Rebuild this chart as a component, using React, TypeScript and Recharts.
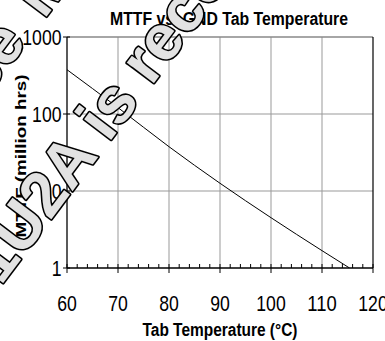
import React from "react";
import { LineChart, Line, XAxis, YAxis, CartesianGrid, ReferenceLine } from "recharts";

// Data
const temps = [60, 70, 80, 90, 100, 110, 115.4];
const mttfValues = [376, 121, 37.6, 12.6, 4.5, 1.68, 1.0];
const xMajorTicks = [60, 70, 80, 90, 100, 110, 120];
const xMinorTicks = [60, 62, 64, 66, 68, 70, 72, 74, 76, 78, 80, 82, 84, 86, 88, 90, 92, 94, 96, 98, 100, 102, 104, 106, 108, 110, 112, 114, 116, 118, 120];
const yTicks = [1, 10, 100, 1000];
const xGridValues = [70, 80, 90, 100, 110];
const yGridValues = [10, 100];

const title = "MTTF vs. GND Tab Temperature";
const xTitle = "Tab Temperature (°C)";
const yTitle = "MTTF (million hrs)";
const watermarkLine1 = "Please use";
const watermarkLine1b = "MBR";
const watermarkLine2a = "MBRS1U";
const watermarkLine2b = "2A is recommended";

const data = temps.map((t, i) => ({ temp: t, mttf: mttfValues[i] }));

const FONT = "'Liberation Sans', Arial, Helvetica, sans-serif";
const DIGIT_W = 9.8;

const XTick = (props: any) => {
  const { x, y, payload } = props;
  const v = payload.value;
  const major = xMajorTicks.includes(v);
  const label = String(v);
  return (
    <g>
      <line x1={x} x2={x} y1={y - 4} y2={major ? y + 5 : y} stroke="#000" strokeWidth={1} />
      {major && (
        <text
          x={x}
          y={y + 43}
          textAnchor="middle"
          fontFamily={FONT}
          fontSize={22}
          fill="#000"
          textLength={label.length * DIGIT_W}
          lengthAdjust="spacingAndGlyphs"
        >
          {label}
        </text>
      )}
    </g>
  );
};

const YTick = (props: any) => {
  const { x, y, payload } = props;
  const label = String(payload.value);
  return (
    <g>
      <line x1={x - 4} x2={x + 3} y1={y} y2={y} stroke="#000" strokeWidth={1} />
      <text
        x={x - 5.5}
        y={y + 8}
        textAnchor="end"
        fontFamily={FONT}
        fontSize={22}
        fill="#000"
        textLength={label.length * DIGIT_W}
        lengthAdjust="spacingAndGlyphs"
      >
        {label}
      </text>
    </g>
  );
};

const WM_FONT_SIZE = 64;
const WM_FILL = "#e2e2e2";

const WMText = ({ x, y, text, anchor }: { x: number; y: number; text: string; anchor: "start" | "end" }) => (
  <g transform={`rotate(-53 ${x} ${y})`}>
    <text
      x={x}
      y={y}
      textAnchor={anchor}
      fontFamily={FONT}
      fontWeight="bold"
      fontSize={WM_FONT_SIZE}
      fill="none"
      stroke="#000"
      strokeWidth={3.2}
      strokeLinejoin="round"
    >
      {text}
    </text>
    <text
      x={x}
      y={y}
      textAnchor={anchor}
      fontFamily={FONT}
      fontWeight="bold"
      fontSize={WM_FONT_SIZE}
      fill={WM_FILL}
      stroke="none"
    >
      {text}
    </text>
  </g>
);

export default function App() {
  return (
    <div
      style={{
        position: "absolute",
        left: 0,
        top: 0,
        width: 385,
        height: 341,
        background: "#fff",
        overflow: "hidden",
      }}
    >
      <LineChart
        width={385}
        height={341}
        data={data}
        margin={{ top: 37, right: 12, left: 7, bottom: 33 }}
      >
        <CartesianGrid
          stroke="#999"
          strokeWidth={1}
          verticalValues={xGridValues}
          horizontalValues={yGridValues}
        />
        <ReferenceLine y={1000} stroke="#888" strokeWidth={1.5} />
        <ReferenceLine x={120} stroke="#000" strokeWidth={1.2} />
        <XAxis
          dataKey="temp"
          type="number"
          domain={[60, 120]}
          ticks={xMinorTicks}
          interval={0}
          tick={<XTick />}
          tickLine={false}
          tickSize={0}
          tickMargin={0}
          height={40}
          axisLine={{ stroke: "#000", strokeWidth: 1.5 }}
          allowDataOverflow
        />
        <YAxis
          type="number"
          scale="log"
          domain={[1, 1000]}
          ticks={yTicks}
          interval={0}
          tick={<YTick />}
          tickLine={false}
          tickSize={0}
          tickMargin={0}
          width={60}
          axisLine={{ stroke: "#000", strokeWidth: 1.3 }}
          allowDataOverflow
        />
        <Line
          type="monotone"
          dataKey="mttf"
          stroke="#000"
          strokeWidth={1}
          dot={false}
          isAnimationActive={false}
        />
      </LineChart>
      <svg
        width={385}
        height={341}
        style={{ position: "absolute", left: 0, top: 0, pointerEvents: "none" }}
      >
        <text
          x={229}
          y={25}
          textAnchor="middle"
          fontFamily={FONT}
          fontWeight="bold"
          fontSize={18}
          textLength={238}
          lengthAdjust="spacingAndGlyphs"
        >
          {title}
        </text>
        <text
          x={220}
          y={336}
          textAnchor="middle"
          fontFamily={FONT}
          fontWeight="bold"
          fontSize={18}
          textLength={155}
          lengthAdjust="spacingAndGlyphs"
        >
          {xTitle}
        </text>
        <text
          transform="translate(25.5,156) rotate(-90)"
          x={0}
          y={0}
          textAnchor="middle"
          fontFamily={FONT}
          fontWeight="bold"
          fontSize={14}
          textLength={163}
          lengthAdjust="spacingAndGlyphs"
        >
          {yTitle}
        </text>
        <WMText x={28} y={42} text={watermarkLine1} anchor="end" />
        <WMText x={44} y={20} text={watermarkLine1b} anchor="start" />
        <WMText x={50} y={221} text={watermarkLine2a} anchor="end" />
        <WMText x={50} y={221} text={watermarkLine2b} anchor="start" />
      </svg>
    </div>
  );
}
